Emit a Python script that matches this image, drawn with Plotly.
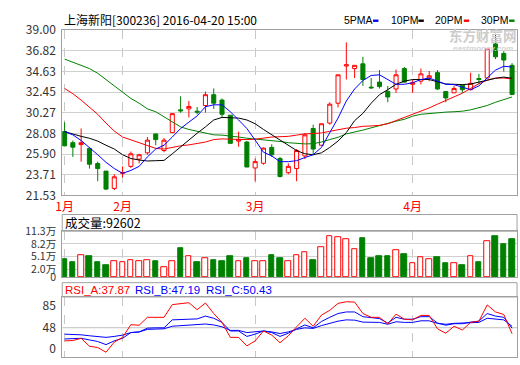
import plotly.graph_objects as go

W, H = 520, 365

# ---------------- data ----------------
title_text = "上海新阳[300236] 2016-04-20 15:00"
month_labels = ["1月", "2月", "3月", "4月"]
month_idx = [0, 7, 23, 42]

open_ = [28.27, 27.10, 26.90, 26.50, 24.90, 24.10, 22.27, 23.87, 24.60, 25.37,
         26.03, 28.03, 26.27, 28.17, 30.57, 30.67, 30.43, 31.03, 32.17, 31.60,
         30.00, 27.27, 27.17, 24.43, 24.93, 26.60, 25.43, 23.93, 24.37, 25.70,
         28.60, 26.83, 29.17, 31.27, 35.20, 34.93, 35.43, 32.97, 33.50, 32.50,
         32.77, 34.93, 33.27, 33.60, 33.93, 34.50, 32.50, 32.37, 33.17, 32.70,
         33.87, 33.93, 37.53, 36.53, 35.27]
high = [29.27, 27.33, 28.60, 26.50, 25.10, 24.10, 23.77, 24.60, 26.17, 25.93,
        27.70, 28.03, 27.60, 30.17, 32.00, 31.50, 30.87, 32.50, 32.83, 31.77,
        30.00, 28.27, 27.27, 25.43, 26.60, 26.93, 25.60, 24.93, 26.43, 28.10,
        29.00, 29.10, 31.37, 34.27, 37.70, 35.27, 36.17, 33.93, 34.77, 33.10,
        34.83, 35.10, 33.77, 34.93, 34.67, 34.77, 32.50, 33.10, 33.17, 34.50,
        34.37, 37.00, 38.60, 36.77, 35.50]
low = [26.77, 25.60, 25.10, 24.37, 23.03, 22.10, 22.10, 23.43, 24.43, 24.93,
       25.83, 26.83, 26.10, 28.17, 30.27, 29.77, 30.10, 30.27, 30.67, 29.77,
       27.03, 26.67, 24.53, 23.03, 24.77, 25.60, 23.43, 23.77, 23.03, 25.37,
       25.83, 26.77, 29.00, 30.83, 33.77, 33.93, 33.10, 32.77, 32.83, 31.37,
       32.37, 33.43, 32.37, 33.27, 33.60, 32.70, 31.37, 32.37, 32.37, 32.63,
       33.27, 33.93, 35.93, 34.60, 32.20]
close = [26.77, 26.63, 27.10, 24.83, 24.37, 22.20, 23.50, 23.93, 25.93, 25.83,
         27.37, 27.43, 27.37, 30.17, 30.47, 30.93, 30.33, 32.17, 31.27, 30.10,
         27.03, 27.43, 24.53, 25.10, 26.53, 25.83, 23.53, 24.60, 26.27, 27.93,
         26.43, 29.10, 31.17, 34.27, 35.33, 35.27, 33.77, 32.90, 33.03, 31.93,
         34.27, 33.50, 33.43, 34.37, 34.17, 32.77, 31.83, 32.83, 32.70, 33.37,
         33.77, 37.00, 36.17, 35.83, 32.20]

ma5 = [28.27, 27.93, 27.33, 26.60, 25.83, 25.03, 24.37, 23.87, 24.17, 24.60,
       25.60, 26.43, 26.83, 27.70, 28.60, 29.27, 29.93, 30.90, 31.10, 31.10,
       30.37, 29.50, 28.60, 27.37, 26.10, 25.70, 25.10, 25.10, 25.20, 25.53,
       25.83, 26.60, 28.10, 29.70, 31.50, 32.77, 33.67, 34.20, 34.27, 33.77,
       33.27, 33.27, 33.43, 33.77, 33.93, 33.60, 33.27, 33.23, 33.00, 32.70,
       33.10, 33.93, 34.77, 35.17, 35.10]
ma10 = [28.27, 28.00, 27.77, 27.57, 27.27, 26.83, 26.43, 25.83, 25.43, 25.27,
        25.17, 25.20, 25.23, 25.93, 26.67, 27.43, 28.10, 28.77, 29.50, 29.77,
        29.77, 29.70, 29.50, 29.10, 28.50, 27.93, 27.33, 26.77, 26.27, 25.93,
        25.83, 26.03, 26.60, 27.27, 28.17, 29.43, 30.20, 31.27, 32.17, 32.70,
        33.27, 33.60, 33.77, 33.77, 33.77, 33.53, 33.30, 33.27, 33.23, 33.30,
        33.50, 33.77, 33.90, 34.03, 33.90]
ma20 = [32.83, 32.27, 31.60, 30.87, 30.10, 29.17, 28.33, 27.70, 27.40, 27.17,
        26.83, 26.50, 26.43, 26.63, 26.77, 26.87, 27.00, 27.17, 27.43, 27.50,
        27.47, 27.43, 27.43, 27.47, 27.60, 27.70, 27.73, 27.77, 27.90, 28.03,
        28.07, 28.13, 28.30, 28.47, 28.63, 28.70, 28.83, 28.87, 28.93, 29.10,
        29.43, 29.77, 30.17, 30.43, 30.77, 31.17, 31.53, 31.93, 32.33, 32.83,
        33.33, 33.70, 33.93, 33.93, 33.83]
ma30 = [35.93, 35.60, 35.27, 34.93, 34.43, 33.77, 33.10, 32.43, 31.77, 31.27,
        30.67, 30.37, 29.83, 29.27, 28.77, 28.50, 28.33, 28.10, 27.93, 27.90,
        27.83, 27.70, 27.57, 27.50, 27.43, 27.33, 27.23, 27.10, 27.00, 26.97,
        27.00, 27.17, 27.43, 27.67, 28.03, 28.20, 28.43, 28.67, 28.93, 29.17,
        29.37, 29.57, 29.90, 30.10, 30.20, 30.27, 30.33, 30.37, 30.43, 30.57,
        30.77, 31.03, 31.37, 31.67, 31.93]

volume_wan = [4.55, 3.76, 5.49, 5.25, 3.61, 2.90, 4.00, 3.61, 4.24, 4.00,
              4.24, 4.08, 2.59, 4.00, 7.14, 5.25, 3.84, 4.71, 4.31, 4.08,
              5.25, 4.00, 4.78, 4.00, 4.00, 5.49, 4.78, 4.00, 5.41, 6.12,
              4.31, 7.29, 10.12, 9.73, 9.41, 6.82, 9.49, 4.78, 5.25, 5.25,
              6.59, 5.73, 3.53, 4.94, 4.47, 5.02, 3.37, 3.37, 2.90, 5.18,
              3.61, 8.94, 9.96, 8.08, 9.26]
last_volume = 92602

rsi_a = [25.8, 26.3, 30.1, 16.7, 14.5, 6.5, 23.7, 31.7, 53.2, 52.2,
         65.6, 65.6, 65.6, 87.1, 88.7, 90.3, 78.5, 89.8, 72.0, 57.0,
         31.7, 31.7, 17.2, 25.8, 42.5, 35.5, 22.6, 34.4, 49.5, 64.0,
         50.5, 69.4, 77.4, 89.2, 91.9, 91.4, 72.0, 65.6, 65.6, 54.3,
         71.0, 62.4, 61.3, 68.8, 68.8, 46.2, 38.7, 50.5, 44.1, 57.0,
         59.1, 86.6, 74.7, 70.4, 37.87]
rsi_b = [29.0, 29.0, 30.1, 27.4, 24.7, 19.4, 25.8, 30.1, 39.8, 40.9,
         47.3, 47.8, 47.8, 61.3, 62.4, 62.4, 62.9, 67.7, 64.0, 57.0,
         42.5, 42.5, 33.3, 37.1, 42.5, 39.8, 33.3, 38.7, 46.2, 52.7,
         47.8, 58.6, 65.6, 72.0, 74.7, 74.7, 66.7, 64.5, 63.4, 55.9,
         65.6, 62.4, 62.4, 66.7, 66.7, 55.9, 52.2, 54.8, 54.8, 57.5,
         59.1, 72.0, 67.7, 65.6, 47.19]
rsi_c = [37.1, 37.1, 36.0, 34.4, 33.3, 31.7, 33.3, 35.5, 39.8, 40.9,
         45.2, 46.2, 46.2, 50.5, 51.6, 52.2, 52.7, 54.3, 52.7, 49.5,
         43.5, 43.5, 39.8, 40.9, 42.5, 40.9, 38.2, 40.9, 45.2, 47.8,
         46.8, 51.6, 55.9, 59.1, 61.3, 60.8, 57.5, 57.0, 57.0, 53.8,
         58.1, 57.0, 57.0, 59.7, 59.7, 55.4, 53.8, 55.4, 55.9, 57.0,
         57.0, 64.0, 62.4, 61.3, 50.43]

price_ticks = [21.53, 23.71, 25.90, 28.08, 30.27, 32.45, 34.63, 36.82, 39.00]
vol_ticks = [0, 2.0, 5.1, 8.2, 11.3]
vol_tick_text = ["0", "2.0万", "5.1万", "8.2万", "11.3万"]
rsi_tick_pos = [13, 48, 85]
rsi_tick_text = ["0", "48", "85"]

# ---------------- styling ----------------
RED = "#ff0000"
GREEN = "#008000"
BLUE = "#0000ff"
BORDER = "#a0a0a0"
GRID = "#d0d0d0"
FONT = "Liberation Sans, Noto Sans CJK SC, sans-serif"
CJK = "Noto Sans CJK SC, Liberation Sans, sans-serif"


def fx(p):
    return p / W


def fy(p):
    return 1 - p / H


idx = list(range(len(close)))
up = [c >= o for o, c in zip(open_, close)]

fig = go.Figure()

fig.add_trace(go.Candlestick(
    x=idx, open=open_, high=high, low=low, close=close,
    increasing=dict(line=dict(color=RED, width=1), fillcolor="#ffffff"),
    decreasing=dict(line=dict(color=GREEN, width=1), fillcolor=GREEN),
    whiskerwidth=0, xaxis="x", yaxis="y", name="K"))

for series, col, name in [(ma30, GREEN, "30PM"), (ma20, RED, "20PM"),
                          (ma10, "#000000", "10PM"), (ma5, BLUE, "5PMA")]:
    fig.add_trace(go.Scatter(x=idx, y=series, mode="lines",
                             line=dict(color=col, width=1),
                             xaxis="x", yaxis="y", name=name))

fig.add_trace(go.Bar(
    x=idx, y=volume_wan, width=0.68,
    marker=dict(color=["#ffffff" if u else GREEN for u in up],
                line=dict(color=[RED if u else GREEN for u in up], width=1)),
    xaxis="x2", yaxis="y2", name="VOL"))

for series, col, name in [(rsi_c, BLUE, "RSI_C"), (rsi_b, BLUE, "RSI_B"),
                          (rsi_a, RED, "RSI_A")]:
    fig.add_trace(go.Scatter(x=idx, y=series, mode="lines",
                             line=dict(color=col, width=1),
                             xaxis="x3", yaxis="y3", name=name))

xdom = [fx(56), fx(517)]
xrange = [-0.28, 54.6]


def xaxis_common(show_labels):
    return dict(domain=xdom, range=xrange, tickvals=month_idx,
                ticktext=month_labels, showticklabels=show_labels,
                tickfont=dict(color=RED, size=12, family=CJK),
                showgrid=True, gridcolor="#c8c8c8", griddash="dash", gridwidth=1,
                showline=True, linecolor=BORDER, linewidth=1, mirror=True,
                ticks="", zeroline=False, fixedrange=True)


def yaxis_common(dom, rng, tv, tt, grid, size=12):
    return dict(domain=dom, range=rng, tickvals=tv, ticktext=tt,
                tickfont=dict(color="#333333", size=size, family=CJK),
                showgrid=grid, gridcolor=GRID, gridwidth=1,
                showline=True, linecolor=BORDER, linewidth=1, mirror=True,
                ticks="", zeroline=False, ticklabelstandoff=3, fixedrange=True)


shapes = []
annotations = []

# header boxes
shapes.append(dict(type="rect", xref="paper", yref="paper",
                   x0=fx(56), x1=fx(517), y0=fy(232), y1=fy(214.5),
                   line=dict(color=BORDER, width=1), fillcolor="rgba(0,0,0,0)"))
shapes.append(dict(type="rect", xref="paper", yref="paper",
                   x0=fx(56), x1=fx(517), y0=fy(301), y1=fy(286),
                   line=dict(color=BORDER, width=1), fillcolor="rgba(0,0,0,0)"))
# RSI 48 line
shapes.append(dict(type="line", xref="x3", yref="y3", x0=xrange[0], x1=xrange[1],
                   y0=48, y1=48, line=dict(color="#c0c0c0", width=1), layer="below"))

# title
annotations.append(dict(text=title_text, xref="paper", yref="paper",
                        x=fx(56), y=fy(10), xanchor="left", yanchor="middle",
                        showarrow=False, font=dict(size=12, color="#000000", family=CJK)))

# legend
legend_items = [("5PMA", 340, BLUE, 371), ("10PM", 387, "#000000", 417),
                ("20PM", 432, RED, 463), ("30PM", 478, GREEN, 509)]
for txt, tx, col, sx in legend_items:
    annotations.append(dict(text=txt, xref="paper", yref="paper",
                            x=fx(tx), y=fy(10.5), xanchor="left", yanchor="middle",
                            showarrow=False,
                            font=dict(size=10.5, color="#000000", family=FONT)))
    shapes.append(dict(type="rect", xref="paper", yref="paper",
                       x0=fx(sx), x1=fx(sx + 5.5), y0=fy(12.5), y1=fy(10),
                       line=dict(width=0), fillcolor=col))

# watermark
annotations.append(dict(text="<b>东方财富网</b>", xref="paper", yref="paper",
                        x=fx(483), y=fy(26.5), xanchor="center", yanchor="middle",
                        showarrow=False,
                        font=dict(size=13.5, color="#cccccc", family=CJK)))
annotations.append(dict(text="<b><i>eastmoney.com</i></b>", xref="paper", yref="paper",
                        x=fx(483), y=fy(40), xanchor="center", yanchor="middle",
                        showarrow=False,
                        font=dict(size=8, color="#d4d4d4", family=FONT)))

# volume header
annotations.append(dict(text="成交量:" + str(last_volume), xref="paper", yref="paper",
                        x=fx(57), y=fy(223), xanchor="left", yanchor="middle",
                        showarrow=False, font=dict(size=12.5, color="#000000", family=CJK)))

# RSI header
rsi_head = [("RSI_A:%.2f" % rsi_a[-1], RED, 57), ("RSI_B:%.2f" % rsi_b[-1], BLUE, 128),
            ("RSI_C:%.2f" % rsi_c[-1], BLUE, 200)]
for txt, col, tx in rsi_head:
    annotations.append(dict(text=txt, xref="paper", yref="paper",
                            x=fx(tx), y=fy(293.5), xanchor="left", yanchor="middle",
                            showarrow=False, font=dict(size=11.5, color=col, family=FONT)))

fig.update_layout(
    width=W, height=H,
    margin=dict(l=0, r=0, t=0, b=0, pad=0),
    paper_bgcolor="#ffffff", plot_bgcolor="#ffffff",
    showlegend=False,
    xaxis=dict(**xaxis_common(True), anchor="y", rangeslider=dict(visible=False)),
    yaxis=yaxis_common([fy(194.5), fy(21)], [21.53, 39.0], price_ticks,
                       ["%.2f" % v for v in price_ticks], True),
    xaxis2=dict(**xaxis_common(False), anchor="y2", matches="x"),
    yaxis2=yaxis_common([fy(280.5), fy(232)], [0, 11.3], vol_ticks, vol_tick_text,
                        True, size=10.5),
    xaxis3=dict(**xaxis_common(False), anchor="y3", matches="x"),
    yaxis3=yaxis_common([fy(364), fy(301)], [-1.6, 100], rsi_tick_pos, rsi_tick_text, False),
    shapes=shapes, annotations=annotations,
    bargap=0,
)

fig.write_html("out.html")
